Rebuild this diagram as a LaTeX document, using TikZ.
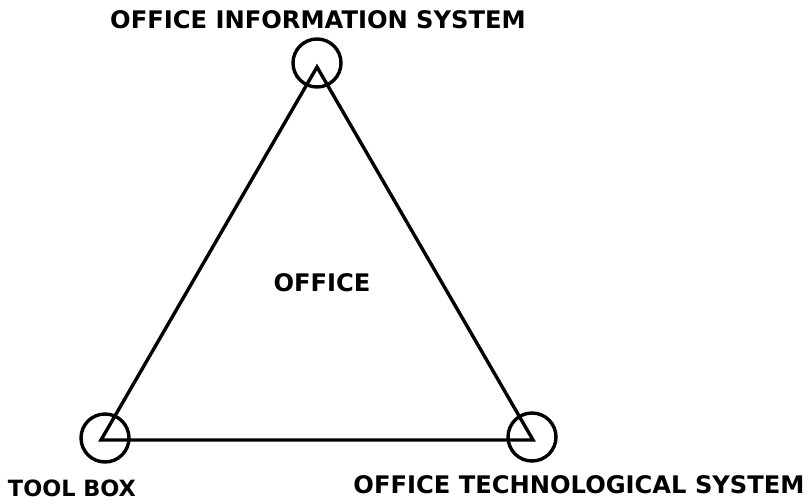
\documentclass[tikz,border=0pt]{standalone}
\usepackage{fontspec}
\setmainfont{DejaVu Sans}
\usetikzlibrary{positioning}

\begin{document}
\begin{tikzpicture}[x=1pt, y=-1pt, line width=3.4pt,
    font=\fontsize{24.2}{28}\selectfont\bfseries,
    ring/.style={draw, circle, minimum size=48pt, inner sep=0pt},
    lbl/.style={anchor=base, inner sep=0pt, text depth=0pt}]
    \useasboundingbox (0,0) rectangle (811,501);

    % corners of the triangle
    \coordinate (top) at (317,67);
    \coordinate (left) at (101,440);
    \coordinate (right) at (533,440);

    \node[ring] (isys) at (317,63) {};
    \node[ring] (tbox) at (105,438) {};
    \node[ring] (tsys) at (532,437) {};

    \draw[line join=miter] (top) -- (left) -- (right) -- cycle;

    \node[lbl] (isyslbl) at (318,28) {OFFICE INFORMATION SYSTEM};
    \node[lbl, font=\fontsize{22.4}{26}\selectfont\bfseries] (tboxlbl) at (72,496) {TOOL BOX};
    \node[lbl] (tsyslbl) at (579,493) {OFFICE TECHNOLOGICAL SYSTEM};
    \node[lbl] (office) at (322,291) {OFFICE};
\end{tikzpicture}
\end{document}
